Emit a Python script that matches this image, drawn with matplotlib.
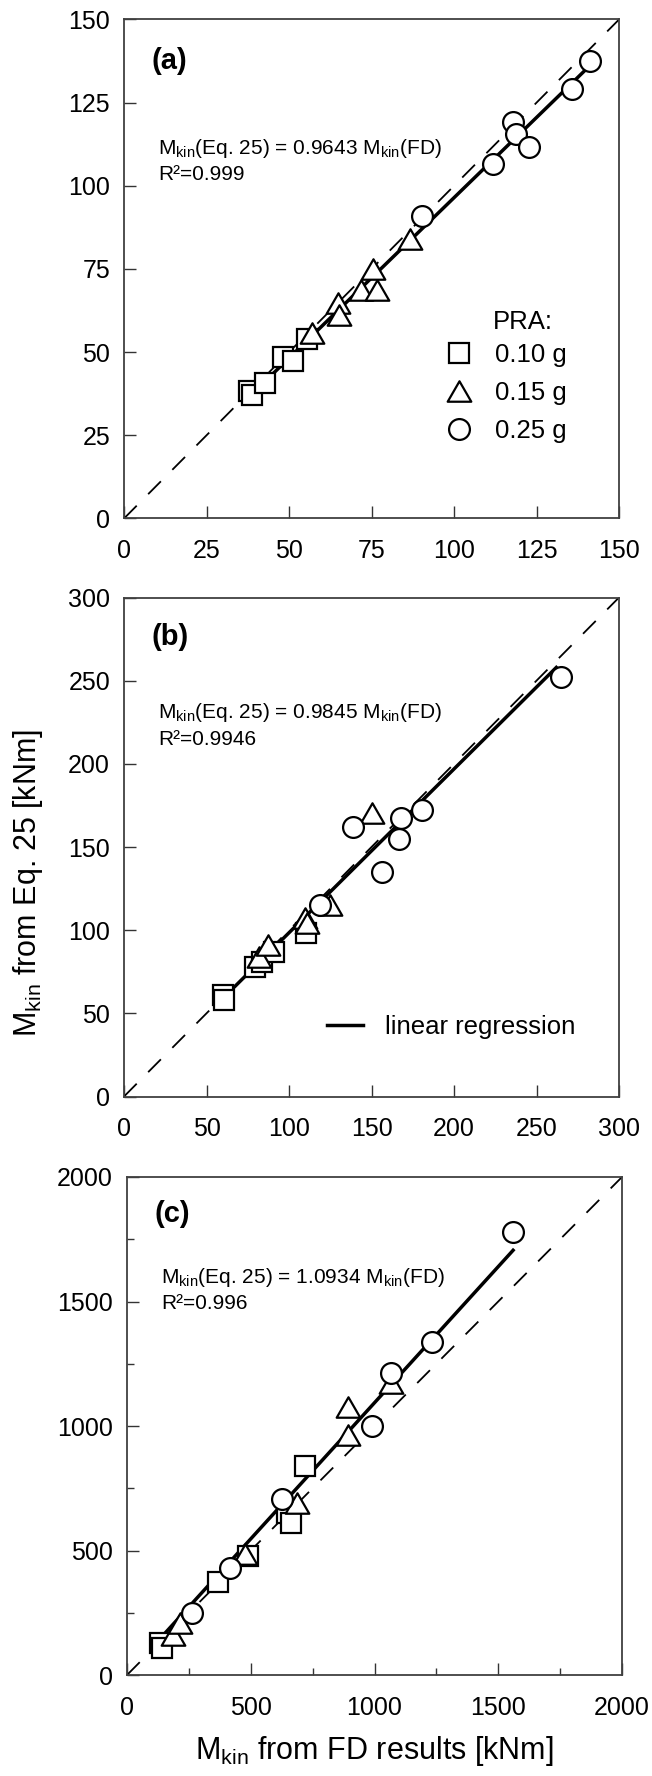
import matplotlib
matplotlib.use('Agg')
import matplotlib.pyplot as plt
from matplotlib.ticker import MultipleLocator
from matplotlib.path import Path

plt.rcParams['font.family'] = ['Liberation Sans', 'DejaVu Sans']
plt.rcParams['mathtext.fontset'] = 'custom'
plt.rcParams['mathtext.rm'] = 'Liberation Sans'
plt.rcParams['mathtext.it'] = 'Liberation Sans:italic'
plt.rcParams['mathtext.bf'] = 'Liberation Sans:bold'

# ---------------- data ----------------
pra_labels = ['0.10 g', '0.15 g', '0.25 g']

a_sq_x = [38.0, 38.8, 42.7, 48.3, 51.2, 55.5]
a_sq_y = [38.2, 37.2, 40.6, 48.4, 47.3, 53.9]
a_tr_x = [56.9, 64.9, 65.2, 71.8, 76.6, 75.6, 86.7]
a_tr_y = [55.7, 64.7, 61.2, 68.7, 68.7, 74.9, 83.9]
a_ci_x = [90.2, 111.7, 118.0, 118.8, 122.7, 135.7, 141.2]
a_ci_y = [90.8, 106.6, 119.1, 115.6, 111.6, 129.1, 137.6]

b_sq_x = [60.0, 60.5, 79.4, 83.4, 90.9, 110.3]
b_sq_y = [61.0, 58.0, 78.0, 81.0, 87.1, 98.1]
b_tr_x = [82.0, 87.5, 109.7, 110.7, 124.8, 150.1]
b_tr_y = [84.1, 91.1, 107.1, 104.1, 115.1, 170.3]
b_ci_x = [118.8, 139.0, 156.2, 166.9, 167.7, 180.4, 265.0]
b_ci_y = [115.1, 162.2, 135.2, 154.6, 167.2, 172.2, 252.0]

c_sq_x = [135, 140, 369, 490, 645, 661, 719]
c_sq_y = [128, 108, 372, 478, 649, 612, 839]
c_tr_x = [187, 214, 477, 686, 894, 894, 1067]
c_tr_y = [161, 208, 486, 692, 964, 1078, 1171]
c_ci_x = [261, 416, 625, 989, 1065, 1234, 1558]
c_ci_y = [248, 428, 706, 1000, 1212, 1339, 1780]

slopes = [0.9643, 0.9845, 1.0934]
r2_texts = ['0.999', '0.9946', '0.996']
reg_ranges = [(38, 143), (60, 262), (130, 1560)]
axis_max = [150, 300, 2000]
major_step = [25, 50, 500]
panel_letters = ['(a)', '(b)', '(c)']

# ---------------- figure ----------------
fig = plt.figure(figsize=(6.52, 17.76), dpi=100)
positions = [
    [124 / 652, 1 - 518.5 / 1776, 495 / 652, 499 / 1776],
    [124 / 652, 1 - 1096.5 / 1776, 495 / 652, 499 / 1776],
    [127 / 652, 1 - 1675 / 1776, 495 / 652, 498 / 1776],
]
eq_y = [(0.742, 0.690), (0.769, 0.716), (0.799, 0.746)]
letter_y = [0.916, 0.921, 0.926]

tri = Path([(0, 0.866), (-1, -0.866), (1, -0.866), (0, 0.866)],
           [Path.MOVETO, Path.LINETO, Path.LINETO, Path.CLOSEPOLY])
mk = dict(markerfacecolor='white', markeredgecolor='black', markeredgewidth=1.6,
          linestyle='none', zorder=4)

data = [
    (a_sq_x, a_sq_y, a_tr_x, a_tr_y, a_ci_x, a_ci_y),
    (b_sq_x, b_sq_y, b_tr_x, b_tr_y, b_ci_x, b_ci_y),
    (c_sq_x, c_sq_y, c_tr_x, c_tr_y, c_ci_x, c_ci_y),
]

for i in range(3):
    ax = fig.add_axes(positions[i])
    m = axis_max[i]
    sqx, sqy, trx, try_, cix, ciy = data[i]
    ax.plot([0, m], [0, m], color='black', lw=1.3, dashes=(10, 9), zorder=2)
    x0, x1 = reg_ranges[i]
    reg, = ax.plot([x0, x1], [slopes[i] * x0, slopes[i] * x1], color='black',
                   lw=2.5, zorder=3, label='linear regression')
    h1, = ax.plot(sqx, sqy, marker='s', markersize=14.5, label=pra_labels[0], **mk)
    h2, = ax.plot(trx, try_, marker=tri, markersize=17, label=pra_labels[1], **mk)
    h3, = ax.plot(cix, ciy, marker='o', markersize=15, label=pra_labels[2], **mk)

    ax.set_xlim(0, m)
    ax.set_ylim(0, m)
    ax.xaxis.set_major_locator(MultipleLocator(major_step[i]))
    ax.yaxis.set_major_locator(MultipleLocator(major_step[i]))
    if i == 2:
        ax.xaxis.set_minor_locator(MultipleLocator(250))
        ax.yaxis.set_minor_locator(MultipleLocator(250))
    ax.tick_params(which='major', direction='in', length=8.5, width=1.0,
                   labelsize=18, color='#333333')
    ax.tick_params(axis='x', which='major', pad=15)
    ax.tick_params(axis='y', which='major', pad=10)
    ax.tick_params(which='minor', direction='in', length=5, width=1.0, color='#333333')
    for s in ax.spines.values():
        s.set_linewidth(1.3)
        s.set_color('#404040')

    ax.text(0.055, letter_y[i], panel_letters[i], transform=ax.transAxes,
            fontsize=21, fontweight='bold', va='center', ha='left')
    ax.text(0.069, eq_y[i][0],
            r'M$_{\mathrm{kin}}$(Eq. 25) = %.4f M$_{\mathrm{kin}}$(FD)' % slopes[i],
            transform=ax.transAxes, fontsize=15, va='center', ha='left')
    ax.text(0.069, eq_y[i][1], 'R\u00b2=' + r2_texts[i],
            transform=ax.transAxes, fontsize=15, va='center', ha='left')

    if i == 0:
        ax.text(0.745, 0.394, 'PRA:', transform=ax.transAxes, fontsize=18.5,
                va='center', ha='left')
        ax.legend(handles=[h1, h2, h3], loc='upper left',
                  bbox_to_anchor=(0.650, 0.352), frameon=False, fontsize=18.5,
                  handlelength=1.0, handletextpad=0.9, labelspacing=0.55,
                  borderpad=0, borderaxespad=0, numpoints=1)
    if i == 1:
        ax.legend(handles=[reg], loc='center left',
                  bbox_to_anchor=(0.410, 0.139), frameon=False, fontsize=18.5,
                  handlelength=1.4, handletextpad=0.85, borderpad=0,
                  borderaxespad=0)
    if i == 2:
        ax.set_xlabel(r'M$_{\mathrm{kin}}$ from FD results [kNm]', fontsize=22,
                      labelpad=10)

fig.text(0.043, 0.503, r'M$_{\mathrm{kin}}$ from Eq. 25 [kNm]', rotation=90,
         fontsize=22, va='center', ha='center')

fig.savefig('out.png', dpi=100)
